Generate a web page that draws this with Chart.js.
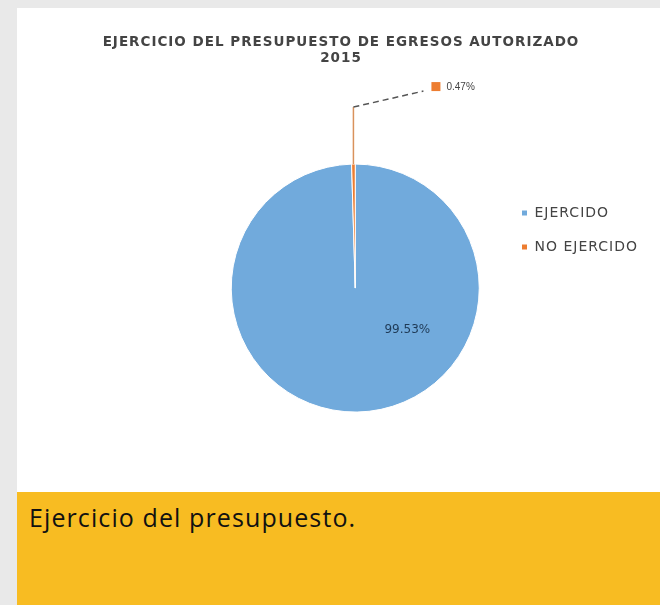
<!DOCTYPE html>
<html>
<head>
<meta charset="utf-8">
<script src="https://cdn.jsdelivr.net/npm/chart.js@4"></script>
<style>
  body { margin: 0; width: 660px; height: 605px; overflow: hidden; background: #e9e9e9; position: relative; font-family: "Open Sans", sans-serif; }
  #panel { position: absolute; left: 17px; top: 8px; width: 643px; height: 484px; background: #fff; }
  #caption { position: absolute; left: 17px; top: 492px; width: 643px; height: 113px; background: #f8bc22; }
  #caption p { margin: 0; padding: 8px 0 0 12px; font-size: 25px; letter-spacing: 1.1px; color: #111; }
</style>
</head>
<body>
<div id="panel"><canvas id="pieChart" width="643" height="484"></canvas></div>
<div id="caption"><p>Ejercicio del presupuesto.</p></div>
<script>
const categories = ['EJERCIDO', 'NO EJERCIDO'];
const percentages = [99.53, 0.47];
const sliceColors = ['#71aadc', '#ed7d31'];
const titleLines = ['EJERCICIO DEL PRESUPUESTO DE EGRESOS AUTORIZADO', '2015'];

// the source picture has wide lettering
const wideText = {
    id: 'wideText',
    beforeLayout(chart) { chart.ctx.letterSpacing = '1px'; }
};

// leader line + percentage labels, placed from the arc elements
const sliceLabels = {
    id: 'sliceLabels',
    afterDatasetsDraw(chart) {
        const ctx = chart.ctx;
        const arcs = chart.getDatasetMeta(0).data;
        ctx.save();
        ctx.letterSpacing = '0px';
        ctx.textBaseline = 'middle';

        // big slice label inside the pie
        const big = arcs[0];
        ctx.font = '12px "DejaVu Sans", sans-serif';
        ctx.fillStyle = '#1f3a56';
        ctx.textAlign = 'center';
        ctx.fillText(percentages[0].toFixed(2) + '%',
            big.x + big.outerRadius * 0.42,
            big.y + big.outerRadius * 0.34);

        // small slice: leader line up and out to the label
        const small = arcs[1];
        const mid = (small.startAngle + small.endAngle) / 2;
        const x0 = small.x + Math.cos(mid) * small.outerRadius;
        const y0 = small.y + Math.sin(mid) * small.outerRadius;
        const yTop = y0 - 57;
        ctx.strokeStyle = '#d9925c';
        ctx.lineWidth = 1.5;
        ctx.beginPath();
        ctx.moveTo(x0, y0);
        ctx.lineTo(x0, yTop);
        ctx.stroke();
        ctx.strokeStyle = '#555';
        ctx.setLineDash([6, 4]);
        ctx.beginPath();
        ctx.moveTo(x0, yTop);
        ctx.lineTo(x0 + 70, yTop - 16);
        ctx.stroke();
        ctx.setLineDash([]);
        ctx.fillStyle = sliceColors[1];
        ctx.fillRect(x0 + 78, yTop - 25, 9, 9);
        ctx.font = '10px "Liberation Sans", Arial, sans-serif';
        ctx.fillStyle = '#444';
        ctx.textAlign = 'left';
        ctx.fillText(percentages[1].toFixed(2) + '%', x0 + 93, yTop - 20);
        ctx.restore();
    }
};

new Chart(document.getElementById('pieChart'), {
    type: 'pie',
    data: {
        labels: categories,
        datasets: [{
            data: percentages,
            backgroundColor: sliceColors,
            borderColor: '#ffffff',
            borderWidth: 1,
            radius: 124,
            clip: false
        }]
    },
    options: {
        responsive: false,
        animation: false,
        layout: { padding: { left: 17, right: 12, top: 0, bottom: 0 } },
        plugins: {
            title: {
                display: true,
                text: titleLines,
                color: '#444',
                font: { family: '"DejaVu Sans", sans-serif', size: 13.5, weight: 'bold', lineHeight: 1.19 },
                padding: { top: 26, bottom: 18 }
            },
            // empty left box, only pushes the pie over to the right
            subtitle: {
                display: true,
                position: 'left',
                fullSize: false,
                text: '',
                font: { size: 1, lineHeight: 1 },
                padding: { top: 0, bottom: 174 }
            },
            legend: {
                position: 'right',
                align: 'start',
                maxWidth: 150,
                title: {
                    display: true,
                    text: ' ',
                    font: { size: 10, lineHeight: 1 },
                    padding: { top: 168, bottom: 0 }
                },
                labels: {
                    usePointStyle: true,
                    pointStyle: 'rect',
                    boxWidth: 6,
                    boxHeight: 6,
                    padding: 20,
                    color: '#444',
                    font: { family: '"DejaVu Sans", sans-serif', size: 14 }
                }
            },
            tooltip: { enabled: false }
        }
    },
    plugins: [wideText, sliceLabels]
});
</script>
</body>
</html>
